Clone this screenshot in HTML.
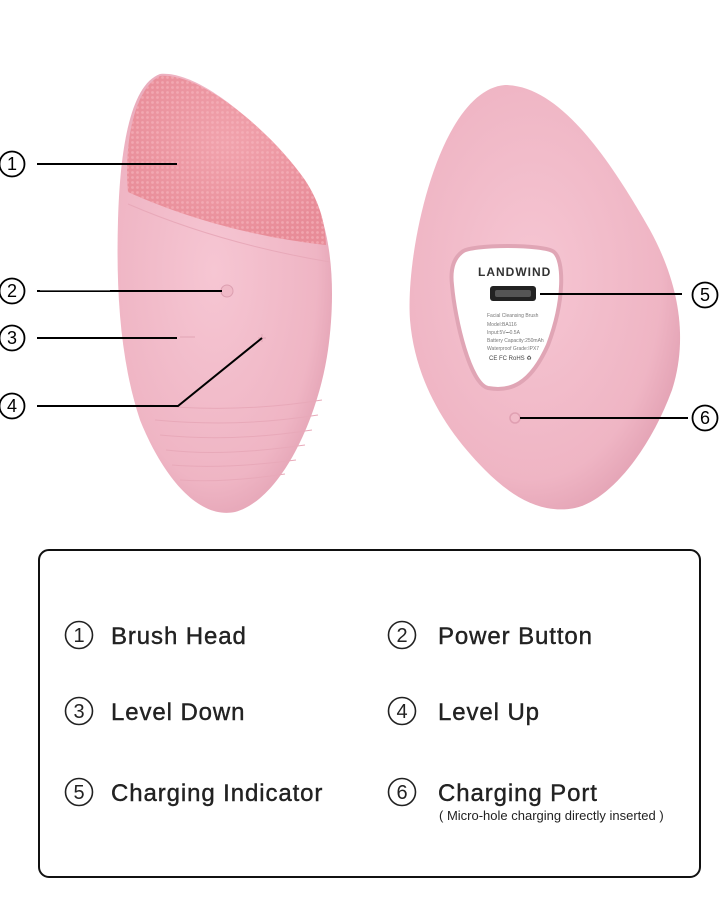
<!DOCTYPE html>
<html><head><meta charset="utf-8"><style>
body{margin:0;background:#fff;width:720px;height:914px;overflow:hidden;font-family:"Liberation Sans","DejaVu Sans",sans-serif}
svg{position:absolute;left:0;top:0}
</style></head><body>
<svg width="720" height="914" viewBox="0 0 720 914">
<defs>
<radialGradient id="bd" cx="0.45" cy="0.45" r="0.6"><stop offset="0" stop-color="#f6c6d3"/><stop offset="0.8" stop-color="#efb5c4"/><stop offset="1" stop-color="#e3a2b4"/></radialGradient>
<radialGradient id="hd" cx="0.5" cy="0.4" r="0.6"><stop offset="0" stop-color="#f1a3ad"/><stop offset="1" stop-color="#e88c98"/></radialGradient>
<pattern id="dots" width="5" height="5" patternUnits="userSpaceOnUse"><circle cx="2.5" cy="2.5" r="1.4" fill="#f7b6bf"/></pattern>
<g id="c"><circle r="12.5" fill="none" stroke="#000" stroke-width="1.8"/></g>
</defs>
<!-- left device -->
<path d="M160,74 C200,70 270,130 310,190 C335,235 335,300 328,350 C318,420 280,500 235,512 C195,520 160,470 140,420 C120,360 116,290 118,220 C120,150 130,85 160,74Z" fill="url(#bd)"/>
<path d="M160,76 C200,72 270,130 305,180 C318,200 325,220 326,245 C260,238 190,220 128,192 C124,150 132,90 160,76Z" fill="url(#hd)"/>
<path d="M160,76 C200,72 270,130 305,180 C318,200 325,220 326,245 C260,238 190,220 128,192 C124,150 132,90 160,76Z" fill="url(#dots)" opacity="0.6"/>
<g fill="none" stroke="#e8a9b9" stroke-width="1">
<path d="M128,204 C200,235 270,252 330,262"/><path d="M150,405 C200,410 260,410 322,400"/><path d="M155,420 C210,425 260,424 318,415"/><path d="M160,435 C210,440 260,438 312,430"/><path d="M166,450 C210,455 255,452 305,445"/><path d="M172,465 C210,468 250,466 296,460"/><path d="M180,480 C210,482 245,480 285,474"/>
</g>
<circle cx="227" cy="291" r="6" fill="#f0b9c7" stroke="#dc9fb0"/>
<line x1="180" y1="337" x2="195" y2="337" stroke="#e2a5b5"/>
<path d="M258,338h8M262,334v8" stroke="#e2a5b5"/>
<!-- right device -->
<path d="M505,85 C560,85 610,160 650,230 C680,285 688,340 672,390 C650,450 610,500 575,508 C540,515 510,495 485,470 C445,430 415,380 410,320 C405,250 440,90 505,85Z" fill="url(#bd)"/>
<path d="M462,252 C470,244 545,244 554,252 C564,260 565,300 548,345 C530,385 510,392 488,388 C470,384 455,320 452,285 C450,268 454,258 462,252Z" fill="#fff" stroke="#e0a5b5" stroke-width="4"/>
<text x="478" y="276" font-size="12" font-weight="bold" fill="#333" letter-spacing="1">LANDWIND</text>
<rect x="490" y="286" width="46" height="15" rx="3" fill="#222"/>
<rect x="495" y="290" width="36" height="7" rx="2" fill="#555"/>
<g font-size="5" fill="#777"><text x="487" y="317">Facial Cleansing Brush</text><text x="487" y="326">Model:BA116</text><text x="487" y="334">Input:5V⎓0.5A</text><text x="487" y="342">Battery Capacity:250mAh</text><text x="487" y="350">Waterproof Grade:IPX7</text><text x="489" y="360" font-size="6" fill="#444">CE FC RoHS ♻</text></g>
<circle cx="515" cy="418" r="5" fill="none" stroke="#e0a0b2" stroke-width="1.5"/>
<!-- leader lines -->
<g stroke="#000" stroke-width="2" fill="none">
<line x1="37" y1="164" x2="177" y2="164"/>
<line x1="37" y1="291" x2="222" y2="291"/>
<line x1="37" y1="338" x2="177" y2="338"/>
<polyline points="37,406 178,406 262,338"/>
<line x1="540" y1="294" x2="682" y2="294"/>
<line x1="520" y1="418" x2="688" y2="418"/>
</g>
<line x1="40" y1="290" x2="110" y2="290" stroke="#fff" stroke-width="0.8"/>
<g font-size="18" fill="#000" text-anchor="middle">
<use href="#c" x="12" y="164"/><text x="12" y="170">1</text>
<use href="#c" x="12" y="291"/><text x="12" y="297">2</text>
<use href="#c" x="12" y="338"/><text x="12" y="344">3</text>
<use href="#c" x="12" y="406"/><text x="12" y="412">4</text>
<use href="#c" x="705" y="295"/><text x="705" y="301">5</text>
<use href="#c" x="705" y="418"/><text x="705" y="424">6</text>
</g>
<!-- legend box -->
<rect x="39" y="550" width="661" height="327" rx="10" fill="none" stroke="#111" stroke-width="2"/>
<g fill="#222" font-size="20" text-anchor="middle">
<circle cx="79" cy="635" r="13.5" fill="none" stroke="#222" stroke-width="1.6"/><text x="79" y="642">1</text>
<circle cx="402" cy="635" r="13.5" fill="none" stroke="#222" stroke-width="1.6"/><text x="402" y="642">2</text>
<circle cx="79" cy="711" r="13.5" fill="none" stroke="#222" stroke-width="1.6"/><text x="79" y="718">3</text>
<circle cx="402" cy="711" r="13.5" fill="none" stroke="#222" stroke-width="1.6"/><text x="402" y="718">4</text>
<circle cx="79" cy="792" r="13.5" fill="none" stroke="#222" stroke-width="1.6"/><text x="79" y="799">5</text>
<circle cx="402" cy="792" r="13.5" fill="none" stroke="#222" stroke-width="1.6"/><text x="402" y="799">6</text>
</g>
<g font-size="24" fill="#222" stroke="#222" stroke-width="0.4" letter-spacing="0.9">
<text x="111" y="644">Brush Head</text><text x="438" y="644">Power Button</text>
<text x="111" y="720">Level Down</text><text x="438" y="720">Level Up</text>
<text x="111" y="801">Charging Indicator</text><text x="438" y="801">Charging Port</text></g>
<text x="439" y="820" font-size="13" fill="#222">( Micro-hole charging directly inserted )</text>
</svg>
</body></html>
